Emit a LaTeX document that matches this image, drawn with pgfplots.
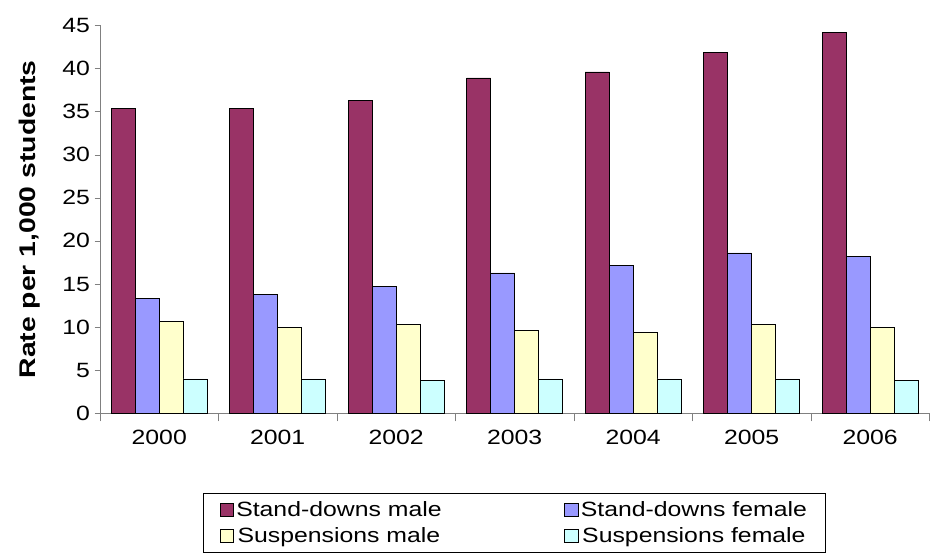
\documentclass[border=0pt]{standalone}
\usepackage{pgfplots}
\pgfplotsset{compat=1.18}
\usepackage{fontspec}
\setmainfont{Liberation Sans}[FakeStretch=1.2]
\newfontfamily\widelabel{Liberation Sans}[FakeStretch=1.25]
\definecolor{c1}{HTML}{993366}
\definecolor{c2}{HTML}{9999FF}
\definecolor{c3}{HTML}{FFFFCC}
\definecolor{c4}{HTML}{CCFFFF}
\begin{document}
\begin{tikzpicture}
\begin{axis}[name=ax,
  scale only axis, width=622pt, height=291pt,
  ybar=0pt, bar width=18pt,
  xmin=-0.5, xmax=6.5, ymin=0, ymax=45,
  axis lines*=left, axis line style={gray},
  xtick={0,...,6}, xticklabels={2000,2001,2002,2003,2004,2005,2006},
  minor xtick={-0.5,0.5,...,6.5},
  x tick style={draw=none}, minor x tick style={draw=gray,thin},
  minor tick length=6pt, major tick length=4pt,
  tick align=outside,
  ytick={0,5,...,45}, y tick style={gray},
  /pgf/number format/assume math mode=true,
  tick label style={font=\fontsize{15.5}{18}\selectfont},
  ylabel={\widelabel\bfseries Rate per 1,000 students},
  ylabel style={font=\fontsize{17}{19}\selectfont, yshift=10pt},
  x tick label style={yshift=-5pt},
  legend style={at={(0.5,-0.205)}, anchor=north, legend columns=2,
    font=\fontsize{15.5}{18}\selectfont, draw=black, inner xsep=12pt, inner ysep=4pt,
    row sep=3pt,
    /tikz/every even column/.append style={column sep=90pt}},
  legend image code/.code={\draw[#1] (0pt,-5pt) rectangle (10pt,5pt);},
]
\addplot[fill=c1,draw=black] coordinates {(0,35.4)(1,35.4)(2,36.3)(3,38.9)(4,39.6)(5,41.9)(6,44.2)};
\addplot[fill=c2,draw=black] coordinates {(0,13.3)(1,13.8)(2,14.7)(3,16.3)(4,17.2)(5,18.6)(6,18.2)};
\addplot[fill=c3,draw=black] coordinates {(0,10.7)(1,10.0)(2,10.3)(3,9.6)(4,9.4)(5,10.3)(6,10.0)};
\addplot[fill=c4,draw=black] coordinates {(0,4.0)(1,4.0)(2,3.8)(3,4.0)(4,4.0)(5,4.0)(6,3.8)};
\legend{Stand-downs male,Stand-downs female,Suspensions male,Suspensions female}
\end{axis}
\pgfresetboundingbox
\path[use as bounding box] ([xshift=-75pt,yshift=-108.5pt]ax.south west) rectangle ([xshift=0.5pt,yshift=19pt]ax.north east);
\end{tikzpicture}
\end{document}
